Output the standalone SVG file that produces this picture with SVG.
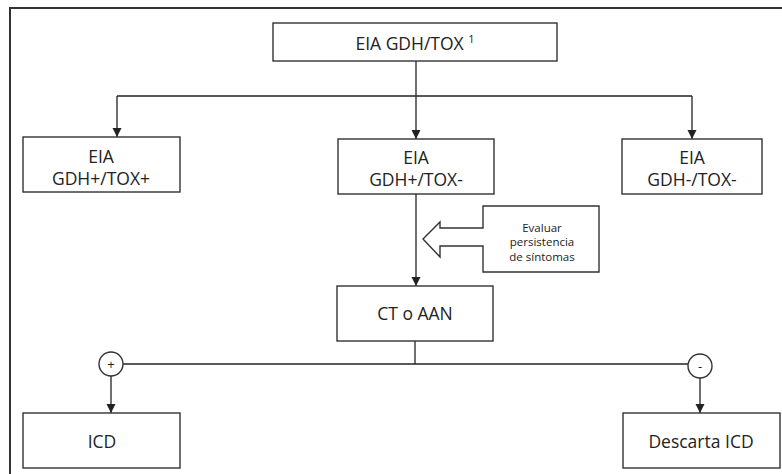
<svg xmlns="http://www.w3.org/2000/svg" width="782" height="474" viewBox="0 0 782 474">
<style>
.box{fill:#fff;stroke:#333;stroke-width:1.4}
.t{font-family:"Open Sans","Noto Sans",sans-serif;font-size:17.5px;fill:#222;text-anchor:middle;dominant-baseline:central}
.s{font-family:"Open Sans","Noto Sans",sans-serif;font-size:11.5px;fill:#222;text-anchor:middle;dominant-baseline:central}
.ln{fill:none;stroke:#222;stroke-width:1.3}
</style>
<defs>
<marker id="ah" markerWidth="10" markerHeight="10" refX="9" refY="5" orient="auto" markerUnits="userSpaceOnUse">
<path d="M0,0.5 L9,5 L0,9.5 Z" fill="#222"/>
</marker>
</defs>
<rect width="782" height="474" fill="#fff"/>
<rect x="10" y="8" width="800" height="500" fill="none" stroke="#333" stroke-width="2"/>
<g id="connectors">
<path class="ln" d="M416,61 V139" marker-end="url(#ah)"/>
<path class="ln" d="M117,96 H692"/>
<path class="ln" d="M117,96 V137" marker-end="url(#ah)"/>
<path class="ln" d="M692,96 V139" marker-end="url(#ah)"/>
<path class="ln" d="M416,194 V286" marker-end="url(#ah)"/>
<path class="ln" d="M415,341 V364"/>
<path class="ln" d="M123,364 H688"/>
<path class="ln" d="M111,376 V413" marker-end="url(#ah)"/>
<path class="ln" d="M700,378 V413" marker-end="url(#ah)"/>
</g>
<g id="n-top">
<rect class="box" x="273" y="23" width="284" height="38"/>
<text class="t" x="415" y="43">EIA GDH/TOX <tspan style="font-size:11px" dy="-5">1</tspan></text>
</g>
<g id="n-pos-pos">
<rect class="box" x="23" y="137" width="157" height="55"/>
<text class="t" x="101" y="156">EIA</text>
<text class="t" x="101" y="178">GDH+/TOX+</text>
</g>
<g id="n-pos-neg">
<rect class="box" x="338" y="139" width="156" height="55"/>
<text class="t" x="416" y="157">EIA</text>
<text class="t" x="416" y="179">GDH+/TOX-</text>
</g>
<g id="n-neg-neg">
<rect class="box" x="622" y="139" width="140" height="55"/>
<text class="t" x="692" y="157">EIA</text>
<text class="t" x="692" y="179">GDH-/TOX-</text>
</g>
<g id="n-evaluar">
<path class="box" d="M483,206 H599 V272 H483 V246 H440 V257 L423,239 L440,222 V228 H483 Z"/>
<text class="s" x="542" y="227">Evaluar</text>
<text class="s" x="542" y="241">persistencia</text>
<text class="s" x="542" y="256">de síntomas</text>
</g>
<g id="n-ct">
<rect class="box" x="337" y="286" width="156" height="55"/>
<text class="t" x="415" y="313">CT o AAN</text>
</g>
<g id="n-plus">
<circle class="box" cx="111" cy="364" r="12"/>
<text class="s" x="111" y="364" style="font-size:13px">+</text>
</g>
<g id="n-minus">
<circle class="box" cx="700" cy="366" r="12"/>
<text class="s" x="700" y="366" style="font-size:13px">-</text>
</g>
<g id="n-icd">
<rect class="box" x="23" y="413" width="157" height="55"/>
<text class="t" x="102" y="441">ICD</text>
</g>
<g id="n-descarta">
<rect class="box" x="623" y="413" width="157" height="55"/>
<text class="t" x="701" y="441">Descarta ICD</text>
</g>
</svg>
